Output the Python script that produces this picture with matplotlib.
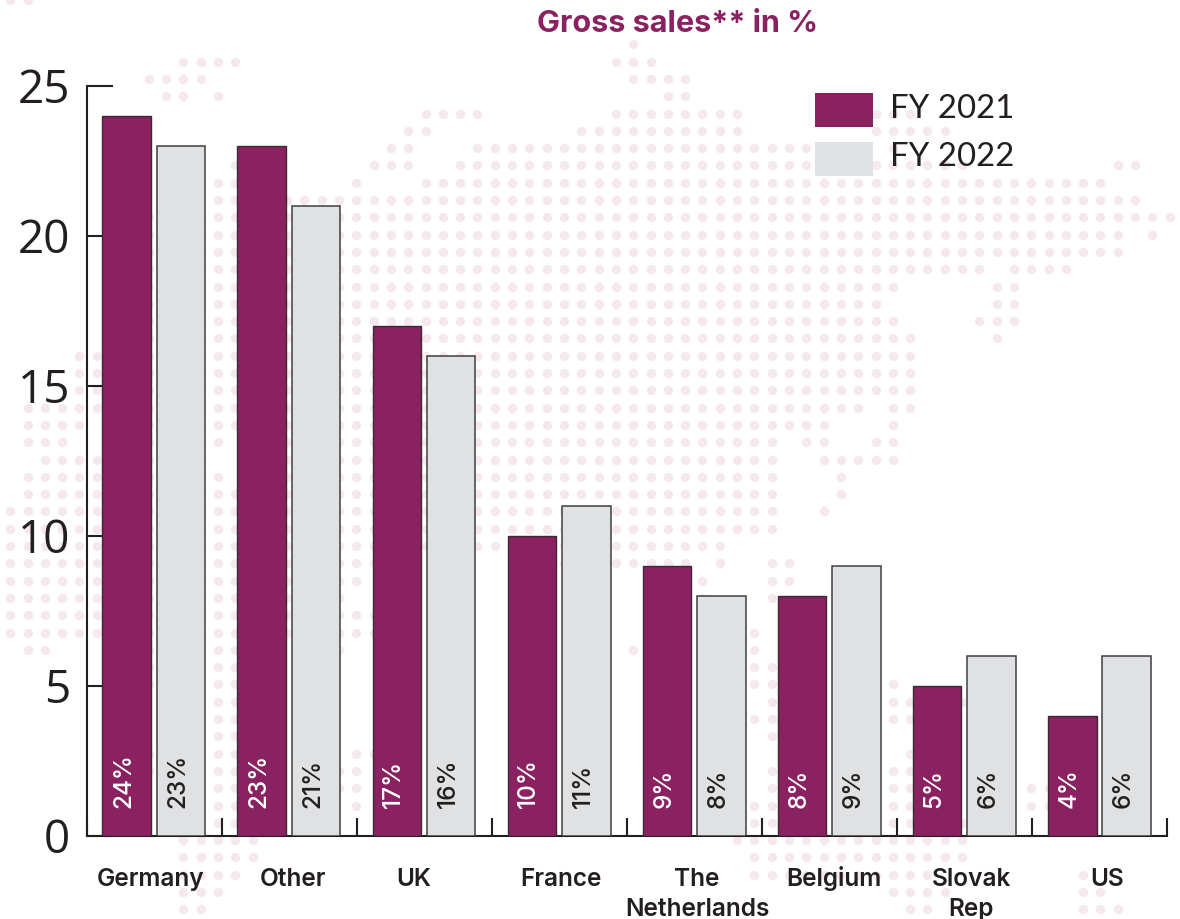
import matplotlib
matplotlib.use("Agg")
import matplotlib.pyplot as plt
from matplotlib.patches import Patch
from matplotlib.transforms import offset_copy

# Chart data
countries = ["Germany", "Other", "UK", "France", "The\nNetherlands", "Belgium", "Slovak\nRep", "US"]
fy2021 = [24, 23, 17, 10, 9, 8, 5, 4]
fy2022 = [23, 21, 16, 11, 8, 9, 6, 6]
series_names = ["FY 2021", "FY 2022"]
title = "Gross sales** in %"
y_ticks = [0, 5, 10, 15, 20, 25]

# Category label centres, in category units from the left axis
label_centres = [0.476, 1.527, 2.423, 3.511, 4.518, 5.532, 6.547, 7.553]

PURPLE = "#8A2161"
GREY = "#E0E1E3"
INK = "#231F20"
DOT = "#F5E8EF"
W, H = 1180, 919

# Dotted world map behind the chart: row -> inclusive column spans
map_rows = {
    0: [(36, 36)], 1: [(10, 13), (35, 37)], 2: [(8, 11), (36, 39)],
    3: [(9, 10), (12, 12), (38, 39)], 4: [(24, 27), (35, 42), (50, 52)],
    5: [(23, 24), (33, 42), (50, 54)], 6: [(22, 23), (27, 46), (51, 51)],
    7: [(13, 13), (21, 23), (26, 46), (50, 55), (64, 65)],
    8: [(12, 13), (20, 20), (24, 63)], 9: [(12, 65)],
    10: [(8, 67)], 11: [(8, 64), (66, 66)], 12: [(8, 64)],
    13: [(8, 56), (58, 61)], 14: [(8, 51), (57, 58)], 15: [(8, 50), (57, 58)],
    16: [(8, 51), (56, 58)], 17: [(8, 52), (57, 57)], 18: [(4, 5), (8, 52)],
    19: [(4, 5), (8, 52)], 20: [(4, 5), (8, 52)],
    21: [(1, 5), (8, 49), (51, 52)], 22: [(1, 4), (8, 47), (51, 51)],
    23: [(1, 3), (8, 12), (14, 44), (46, 47), (50, 51)],
    24: [(2, 5), (8, 11), (14, 44), (47, 51)],
    25: [(1, 5), (8, 12), (14, 44), (48, 48)],
    26: [(1, 5), (8, 44), (48, 48)], 27: [(0, 5), (8, 44), (47, 47)],
    28: [(0, 5), (8, 44)], 29: [(0, 5), (8, 41)],
    30: [(0, 5), (8, 21), (29, 39), (41, 41), (44, 45)],
    31: [(0, 5), (8, 20), (40, 40), (44, 45)],
    32: [(0, 5), (8, 19), (40, 40), (44, 44)],
    33: [(0, 5), (8, 21)], 34: [(0, 5), (8, 21), (43, 43)],
    35: [(1, 2), (8, 8), (12, 13), (19, 19), (36, 36), (43, 43)],
    36: [(8, 8), (12, 13), (43, 44)], 37: [(8, 8), (12, 13), (43, 44), (51, 51)],
    38: [(12, 13), (44, 44), (51, 52), (55, 55)], 39: [(12, 13), (43, 44), (51, 52)],
    40: [(12, 13), (44, 44)], 41: [(8, 8), (12, 13), (20, 21), (52, 52)],
    42: [(8, 8), (12, 13), (19, 20), (44, 44), (51, 52)],
    43: [(12, 13), (19, 20), (44, 44), (51, 52), (59, 60)],
    44: [(12, 13), (20, 20), (43, 44), (51, 52), (59, 60)],
    45: [(12, 13), (43, 44), (51, 52), (55, 55)],
    46: [(10, 14), (42, 55)], 47: [(10, 14), (43, 55)],
    48: [(10, 13), (43, 53), (62, 62)], 49: [(10, 12), (51, 54), (62, 63)],
    50: [(10, 11), (52, 53), (62, 64)],
}

fig = plt.figure(figsize=(W / 100, H / 100), dpi=100, facecolor="white")

# Map layer uses a pixel-based coordinate system spanning the whole figure
bg = fig.add_axes([0, 0, 1, 1], zorder=0)
bg.set_xlim(0, W)
bg.set_ylim(H, 0)
bg.axis("off")
xs, ys = [10.0, 27.6], [0.0, 0.0]
for row, spans in map_rows.items():
    for a, b in spans:
        for col in range(a, b + 1):
            xs.append(10.26 + 17.305 * col)
            ys.append(44.3 + 17.3 * row)
bg.scatter(xs, ys, s=(9.4 * 0.72) ** 2, color=DOT, linewidths=0, clip_on=True)

# Main bar chart
left, right, top, bottom = 86.7, 1167.3, 85.7, 835.7
ax = fig.add_axes([left / W, 1 - bottom / H, (right - left) / W, (bottom - top) / H], zorder=1)
ax.patch.set_alpha(0)
ax.set_xlim(0, len(countries))
ax.set_ylim(0, 25)
ax.set_axisbelow(True)

centres = [i + 0.5 for i in range(len(countries))]
pos_a = [c - 0.204 for c in centres]
pos_b = [c + 0.198 for c in centres]
bars_a = ax.bar(pos_a, fy2021, width=0.36, color=PURPLE, edgecolor="#3A2A33", linewidth=1.0, zorder=2)
bars_b = ax.bar(pos_b, fy2022, width=0.36, color=GREY, edgecolor="#3F3F41", linewidth=1.1, zorder=2)

for s in ("top", "right"):
    ax.spines[s].set_visible(False)
for s in ("left", "bottom"):
    ax.spines[s].set_linewidth(1.5)
    ax.spines[s].set_color(INK)
    ax.spines[s].set_zorder(1)

ax.set_xticks(range(len(countries) + 1))
ax.set_xticklabels([])
ax.tick_params(axis="x", direction="in", length=13, width=1.5, color=INK)
ax.set_yticks(y_ticks)
ax.tick_params(axis="y", direction="in", length=18.5, width=1.5, color=INK, pad=12,
               labelsize=33, labelcolor=INK)
for lbl in ax.get_yticklabels():
    lbl.set_family("Open Sans")

# Rotated value labels sitting just above the baseline
shift = offset_copy(ax.transData, fig=fig, x=-2.2, y=0, units="points")
for xs_, vals, col in ((pos_a, fy2021, "white"), (pos_b, fy2022, INK)):
    for x, v in zip(xs_, vals):
        ax.text(x, 0.92, f"{v}%", rotation=90, rotation_mode="anchor", ha="left", va="center",
                color=col, fontsize=17.5, family="Inter", fontweight="medium",
                transform=shift, zorder=3)

# Category names, each line placed on its own baseline
for x, name in zip(label_centres, countries):
    for n, line in enumerate(name.split("\n")):
        ax.annotate(line, xy=(x, 0), xycoords=("data", "axes fraction"),
                    xytext=(0, -36 - 21.6 * n), textcoords="offset points",
                    ha="center", va="baseline", fontsize=17.6,
                    family="Inter", fontweight="semibold", color=INK)

fig.text(678 / W, 1 - 24 / H, title, ha="center", va="center", fontsize=22,
         family="Inter", fontweight="bold", color=PURPLE)

handles = [Patch(facecolor=PURPLE, edgecolor="none"), Patch(facecolor=GREY, edgecolor="none")]
legend = ax.legend(handles, series_names, loc="upper left",
                   bbox_to_anchor=((815 - left) / (right - left), 1 - (93 - top) / (bottom - top)),
                   frameon=False, borderpad=0, borderaxespad=0,
                   handlelength=1.76, handleheight=1.21, handletextpad=0.52, labelspacing=0.44,
                   labelcolor=INK, prop={"family": "Lato", "size": 23.8})
for t in legend.get_texts():
    t.set_position((0, 3.5))

fig.savefig("out.png", dpi=100, facecolor="white")
